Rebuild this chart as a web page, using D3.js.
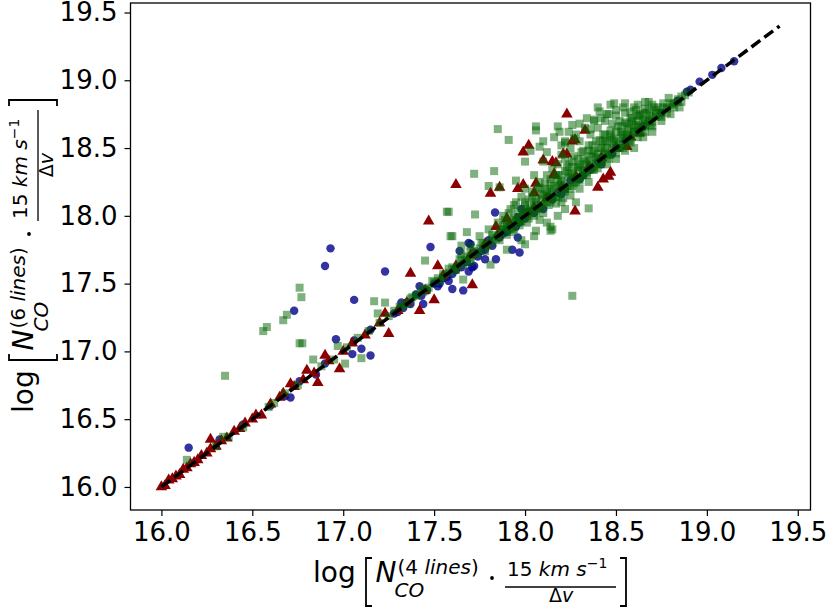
<!DOCTYPE html>
<html>
<head>
<meta charset="utf-8">
<script src="https://cdn.jsdelivr.net/npm/d3@7"></script>
<style>
  body { margin: 0; background: #fff; }
  svg { display: block; font-family: "DejaVu Sans", sans-serif; }
</style>
</head>
<body>
<div id="chart"></div>
<script>
// axis ticks (same on both axes)
const tickValues = [16.0, 16.5, 17.0, 17.5, 18.0, 18.5, 19.0, 19.5];

// one-to-one reference line
const lineX = [16.0, 19.4];
const lineY = [16.0, 19.4];

// blue circles [x, y]
const circlePoints = [
  [16.45,16.46],[16.6,16.6],[16.9,16.91],[17.15,17.16],[17.28,17.28],[17.35,17.36],[17.4,17.42],
  [17.5,17.5],[17.55,17.54],[17.62,17.6],[17.68,17.66],[17.72,17.73],[17.76,17.74],[17.8,17.82],
  [17.88,17.87],[17.92,17.93],[17.97,17.95],[18.02,18.03],[18.08,18.06],[18.13,18.14],[18.18,18.17],
  [18.25,18.26],[18.32,18.3],[18.4,18.4],[18.48,18.46],[18.55,18.55],[18.65,18.66],[18.75,18.76],
  [18.84,18.85],[18.89,18.915],[18.91,18.93],[18.96,18.99],[19.03,19.04],[19.08,19.09],[19.15,19.14],
  [16.15,16.29],[16.32,16.35],[16.71,16.66],[16.68,16.67],[16.76,16.78],[16.85,16.83],[16.73,17.30],
  [16.90,17.63],[16.93,17.76],[16.96,17.09],[17.05,16.98],[17.06,17.08],[17.10,17.02],[17.15,16.97],
  [17.06,17.38],[17.23,17.59],[17.48,17.77],[17.42,17.48],[17.44,17.35],[17.32,17.36],[17.60,17.46],
  [17.66,17.45],[17.64,17.74],[17.69,17.80],[17.835,18.025],[17.93,17.75],[17.97,17.73],[17.84,17.68],
  [17.78,17.68],[17.70,17.79],[17.72,17.63],[17.71,17.62],[17.69,17.59],[17.98,18.05],[17.96,17.99],
  [17.96,17.84],[18.1,18.05],[18.2,18.16],[18.3,18.27],[18.42,18.38],[17.58,17.52],[17.52,17.48],
  [17.3,17.29],[17.33,17.32],[17.37,17.35],[17.43,17.41],[17.46,17.45],[17.53,17.5],[17.57,17.55],
  [17.6,17.57],[17.65,17.62],[17.74,17.7],[17.78,17.75],[17.82,17.78],[17.86,17.84],[17.9,17.88],
  [17.95,17.92],[18.0,17.98],[18.05,18.02],[18.15,18.12],[18.22,18.2],[18.28,18.28],[18.36,18.34]
];

// red triangles [x, y]
const trianglePoints = [
  [16.0,16.0],[16.02,16.01],[16.04,16.05],[16.06,16.06],[16.08,16.08],[16.1,16.09],[16.12,16.13],
  [16.14,16.14],[16.16,16.17],[16.18,16.18],[16.2,16.2],[16.22,16.23],[16.25,16.25],[16.27,16.28],
  [16.3,16.3],[16.33,16.34],[16.36,16.36],[16.4,16.41],[16.43,16.43],[16.46,16.47],[16.5,16.5],
  [16.6,16.61],[16.65,16.66],[16.73,16.74],[16.78,16.79],[16.84,16.84],[16.92,16.93],[17.0,17.0],
  [17.05,17.06],[17.12,17.12],[17.2,17.21],[17.3,17.3],[17.35,17.36],[17.45,17.45],[17.55,17.56],
  [17.62,17.63],[17.7,17.71],[17.78,17.79],[17.85,17.86],[17.92,17.93],[18.0,18.01],[18.05,18.06],
  [18.12,18.13],[18.2,18.21],[18.28,18.29],[18.35,18.36],[18.42,18.43],[18.5,18.5],[18.58,18.58],
  [16.27,16.35],[16.52,16.53],[16.55,16.53],[16.67,16.69],[16.71,16.76],[16.80,16.86],[16.86,16.77],
  [16.90,16.97],[16.98,16.87],[17.23,17.28],[17.25,17.13],[17.37,17.575],[17.42,17.30],[17.50,17.38],
  [17.52,17.63],[17.47,17.96],[17.62,18.23],[17.81,18.165],[17.96,18.20],[17.99,18.23],[18.06,18.24],
  [18.275,18.035],[18.40,18.21],[18.47,18.32],[17.90,17.98],[17.71,17.49],[17.84,17.92],[18.10,18.41],
  [18.15,18.40],[18.17,18.39],[18.21,18.455],[18.23,18.455],[18.16,18.31],[17.99,18.47],[18.23,18.75],
  [18.02,18.52],[18.275,18.56],[18.26,18.55],[18.33,18.63],[18.16,18.30],[17.86,18.21],[18.05,18.17],
  [18.43,18.27],[18.56,18.51],[18.63,18.61],[18.46,18.29]
];

// green squares [x, y]
const squarePoints = [
  [16.35,16.82],[16.56,17.15],[16.58,17.18],[16.67,17.23],[16.69,17.27],[16.76,17.47],[16.77,17.40],
  [16.76,17.06],[16.775,17.06],[16.835,16.94],[17.17,17.37],[17.23,17.36],[17.19,17.28],[17.10,16.95],
  [16.97,17.04],[17.01,16.91],[17.45,17.67],[17.59,17.85],[17.68,17.88],[17.65,17.78],[17.66,17.53],
  [17.72,18.31],[17.83,18.33],[17.80,18.22],[17.86,18.21],[17.95,18.26],[17.57,18.03],[17.58,18.03],
  [17.725,18.01],[17.60,17.85],[18.26,17.41],[18.35,18.055],[18.0,17.79],[17.81,17.64],[18.14,17.89],
  [18.08,17.97],[18.06,17.89],[17.85,18.64],[17.91,18.56],[18.06,18.66],[18.06,18.63],[18.18,18.66],
  [18.19,18.62],[18.08,18.51],[18.49,18.83],[18.47,18.82],[18.68,18.84],[18.79,18.87],[18.76,18.83],
  [18.61,18.78],[18.45,18.75],[18.38,18.71],[18.22,18.54],[18.14,17.92],[18.26,18.67],[18.22,18.55],
  [16.14,16.2],[16.34,16.37],[16.37,16.37],[16.3,16.3],[16.45,16.44],[16.59,16.59],[16.62,16.62],
  [16.68,16.69],[16.75,16.75],[16.88,16.89],[16.95,16.94],[17.02,17.03],[17.08,17.1],[17.14,17.15],
  [17.2,17.21],[17.25,17.26],[17.28,17.3],[17.32,17.33],[17.36,17.36],[17.38,17.4],[17.41,17.42],
  [17.44,17.44],[17.47,17.47],[17.5,17.51],[17.53,17.52],[17.55,17.57],[17.58,17.58],[17.6,17.62],
  [17.63,17.63],[17.65,17.67],[17.68,17.7],[17.7,17.69],[17.72,17.74],[17.75,17.76],[17.77,17.79],
  [17.79,17.8],[17.82,17.84],[17.84,17.83],[17.86,17.88],[17.88,17.9],[17.9,17.93],[17.92,17.91],
  [17.95,17.97],[17.97,17.99],[17.99,18.02],[18.01,18.0],[18.03,18.06],[18.05,18.08],[18.07,18.05],
  [18.09,18.12],[18.1,18.15],[18.12,18.1],[18.14,18.18],[18.15,18.2],[18.17,18.14],[18.19,18.23],
  [18.2,18.26],[18.22,18.2],[18.24,18.28],[18.25,18.31],[18.27,18.24],[18.29,18.33],[18.3,18.36],
  [18.32,18.3],[18.34,18.38],[18.35,18.41],[18.37,18.34],[18.39,18.43],[18.4,18.46],[18.42,18.4],
  [18.44,18.48],[18.45,18.5],[18.47,18.45],[18.49,18.52],[18.5,18.55],[18.52,18.5],[18.54,18.57],
  [18.56,18.6],[18.58,18.56],[18.6,18.62],[18.62,18.65],[18.64,18.63],[18.66,18.68],[18.68,18.7],
  [18.7,18.69],[18.72,18.73],[18.75,18.76],[18.78,18.8],[18.82,18.83],[18.86,18.88],[18.9,18.91],
  [18.05,18.3],[18.1,18.4],[18.15,18.35],[18.2,18.45],[18.25,18.5],[18.28,18.6],[18.3,18.55],
  [18.33,18.65],[18.36,18.6],[18.38,18.7],[18.4,18.65],[18.42,18.72],[18.44,18.6],[18.46,18.75],
  [18.48,18.68],[18.5,18.78],[18.52,18.7],[18.55,18.76],[18.58,18.72],[18.6,18.8],[18.63,18.75],
  [18.66,18.79],[18.7,18.82],[18.73,18.8],[18.2,18.1],[18.25,18.15],[18.3,18.2],[18.35,18.25],
  [18.0,18.2],[17.95,18.1],[18.08,18.25],[18.12,18.3],[18.18,18.38],[18.22,18.42],[18.26,18.4],
  [18.32,18.48],[18.37,18.52],[18.43,18.55],[18.47,18.58],[18.53,18.62],[18.57,18.66],[18.62,18.7],
  [18.12,17.95],[18.18,18.0],[18.22,18.05],[18.28,18.1],[18.15,17.9],[18.05,17.85],[17.98,17.82],
  [17.9,17.75],[17.88,18.0],[17.92,18.05],[17.85,17.95],[17.8,17.9],[17.75,17.85],[17.7,17.78],
  [17.65,17.72],[18.4,18.35],[18.45,18.38],[18.5,18.42],[18.55,18.48],[18.6,18.5],[18.65,18.58],
  [18.7,18.62],[18.75,18.7],[18.8,18.75],[18.85,18.8],
  [17.88,17.9],[17.89,17.97],[17.9,17.86],[17.91,18.02],[17.92,17.96],[17.93,17.88],[17.94,18.08],
  [17.95,17.95],[17.96,18.04],[17.97,17.93],[17.98,18.14],[17.99,18.02],[18.0,18.08],[18.01,17.95],
  [18.02,18.12],[18.03,18.04],[18.04,18.18],[18.05,18.0],[18.06,18.1],[18.07,18.21],[18.08,18.06],
  [18.09,18.16],[18.1,18.02],[18.11,18.24],[18.12,18.14],[18.13,18.08],[18.14,18.27],[18.15,18.16],
  [18.16,18.22],[18.17,18.09],[18.18,18.3],[18.19,18.18],[18.2,18.24],[18.21,18.13],[18.22,18.33],
  [18.23,18.22],[18.24,18.38],[18.25,18.2],[18.26,18.3],[18.27,18.44],[18.28,18.25],[18.29,18.36],
  [18.3,18.28],[18.31,18.47],[18.32,18.34],[18.33,18.4],[18.34,18.3],[18.35,18.52],[18.36,18.38],
  [18.37,18.46],[18.38,18.34],[18.39,18.55],[18.4,18.42],[18.41,18.5],[18.42,18.38],[18.43,18.6],
  [18.44,18.46],[18.45,18.54],[18.46,18.42],[18.47,18.63],[18.48,18.5],[18.49,18.57],[18.5,18.46],
  [18.51,18.66],[18.52,18.54],[18.53,18.6],[18.54,18.5],[18.55,18.69],[18.56,18.58],[18.57,18.64],
  [18.58,18.54],[18.59,18.72],[18.6,18.62],[18.61,18.67],[18.62,18.58],[18.63,18.74],[18.64,18.66],
  [18.65,18.7],[18.66,18.62],[18.67,18.76],[18.68,18.7],[18.69,18.74],[18.7,18.66],[18.72,18.78],
  [18.74,18.74],[18.76,18.8],[18.78,18.76],[18.8,18.83],[18.82,18.8],[18.84,18.86],[18.86,18.84],
  [18.88,18.89],
  [17.62,17.6],[17.66,17.64],[17.7,17.66],[17.74,17.72],[17.78,17.74],[17.82,17.8],[17.86,17.82],
  [17.9,17.92],[17.94,17.9],[17.98,17.96],[18.02,17.98],[18.06,18.03],[18.1,18.08],[18.14,18.1],
  [18.18,18.14],[18.22,18.18],[18.26,18.22],[18.3,18.26],[18.34,18.32],[18.38,18.36],[18.42,18.42],
  [18.46,18.45],[18.5,18.5],[18.54,18.53],[18.58,18.6],[18.62,18.63],[18.66,18.66],[18.7,18.72],
  [18.0,18.4],[18.03,18.48],[18.1,18.55],[18.12,18.47],[18.16,18.58],[18.2,18.52],[18.24,18.62],
  [18.27,18.57],[18.3,18.68],[18.34,18.72],[18.36,18.64],[18.41,18.77],[18.44,18.7],[18.5,18.74],
  [18.54,18.8],[18.58,18.77],[18.62,18.82],[18.66,18.84],[18.55,18.83],[18.4,18.8],
  [17.31,17.33],[17.34,17.35],[17.37,17.39],[17.4,17.41],[17.43,17.46],[17.46,17.46],[17.49,17.52],
  [17.52,17.54],[17.55,17.55],[17.58,17.61],[17.61,17.6],[17.64,17.68],[17.67,17.67],[17.7,17.73],
  [17.73,17.72],[17.76,17.8],[17.79,17.78],[17.82,17.86],[17.85,17.85],[17.88,17.93],[17.91,17.9],
  [17.94,17.99],[17.97,17.96],[18.0,18.05],[18.03,18.02],[18.06,18.12],[18.09,18.08],[18.12,18.18],
  [18.15,18.13],[18.18,18.25],[18.21,18.19],[18.24,18.32],[18.27,18.27],[18.3,18.38],[18.33,18.33],
  [18.36,18.44],[18.39,18.38],[18.42,18.5],[18.45,18.44],[18.48,18.56],[18.51,18.5],[18.54,18.6],
  [18.57,18.55],[18.6,18.66],[18.63,18.61],[18.66,18.71],[18.69,18.67],[18.72,18.76],[18.75,18.73],
  [18.78,18.79],[18.81,18.82],[18.84,18.84],
  [18.0,18.1],[18.04,18.14],[18.08,18.2],[18.11,18.2],[18.14,18.24],[18.17,18.3],[18.2,18.3],
  [18.23,18.36],[18.26,18.36],[18.29,18.42],[18.32,18.42],[18.35,18.48],[18.38,18.48],[18.41,18.56],
  [18.44,18.55],[18.47,18.6],[18.5,18.62],[18.53,18.66],[18.56,18.68],[18.59,18.7],[18.62,18.74],
  [18.65,18.76],[18.68,18.78],[18.71,18.8]
];

const width = 831, height = 607;
const margin = { top: 3, right: 20.5, bottom: 97, left: 130.5 };
const innerW = width - margin.left - margin.right;
const innerH = height - margin.top - margin.bottom;

const svg = d3.select('#chart').append('svg')
  .attr('width', width)
  .attr('height', height);

const x = d3.scaleLinear().domain([15.83, 19.57]).range([0, innerW]);
const y = d3.scaleLinear().domain([15.83, 19.57]).range([innerH, 0]);

const g = svg.append('g')
  .attr('transform', `translate(${margin.left},${margin.top})`);

// markers: circles first, then triangles, squares on top
g.selectAll('path.circ').data(circlePoints).join('path')
  .attr('class', 'circ')
  .attr('d', d3.symbol(d3.symbolCircle, 56))
  .attr('transform', d => `translate(${x(d[0])},${y(d[1])})`)
  .attr('fill', '#00008b')
  .attr('fill-opacity', 0.8);

g.selectAll('path.tri').data(trianglePoints).join('path')
  .attr('class', 'tri')
  .attr('d', d3.symbol(d3.symbolTriangle, 58))
  .attr('transform', d => `translate(${x(d[0])},${y(d[1])})`)
  .attr('fill', '#8b0000');

g.selectAll('path.sq').data(squarePoints).join('path')
  .attr('class', 'sq')
  .attr('d', d3.symbol(d3.symbolSquare, 64))
  .attr('transform', d => `translate(${x(d[0])},${y(d[1])})`)
  .attr('fill', '#006400')
  .attr('fill-opacity', 0.5);

// dashed 1:1 line
const line = d3.line().x(d => x(d[0])).y(d => y(d[1]));
g.append('path')
  .datum(lineX.map((v, i) => [v, lineY[i]]))
  .attr('d', line)
  .attr('fill', 'none')
  .attr('stroke', '#000')
  .attr('stroke-width', 3.5)
  .attr('stroke-dasharray', '11,5');

// axes
const fmt = d3.format('.1f');
const xAxis = g.append('g')
  .attr('transform', `translate(0,${innerH})`)
  .call(d3.axisBottom(x).tickValues(tickValues).tickFormat(fmt).tickSize(6).tickSizeOuter(0).tickPadding(7));
const yAxis = g.append('g')
  .call(d3.axisLeft(y).tickValues(tickValues).tickFormat(fmt).tickSize(6).tickSizeOuter(0).tickPadding(7));

[xAxis, yAxis].forEach(a => {
  a.selectAll('text').attr('font-size', 26).attr('font-family', '"DejaVu Sans", sans-serif').attr('fill', '#000');
  a.selectAll('line').attr('stroke', '#000').attr('stroke-width', 1.2);
  a.select('.domain').remove();
});

// frame
g.append('rect')
  .attr('width', innerW).attr('height', innerH)
  .attr('fill', 'none').attr('stroke', '#000').attr('stroke-width', 1.3);

// axis label: log [ N_CO^(k lines) . 15 km s^-1 / Δv ]
function drawLabel(sel, k) {
  const big = 28, small = 20;
  sel.append('text').attr('x', -156.5).attr('y', 0).attr('font-size', big).text('log');
  sel.append('path').attr('d', 'M-97.5,-24H-103.5V24H-97.5')
    .attr('fill', 'none').attr('stroke', '#000').attr('stroke-width', 1.8);
  sel.append('text').attr('x', -94).attr('y', 0).attr('font-size', big)
    .attr('font-style', 'italic').text('N');
  const sup = sel.append('text').attr('x', -72).attr('y', -8).attr('font-size', small);
  sup.append('tspan').text(`(${k} `);
  sup.append('tspan').attr('font-style', 'italic').text('lines');
  sup.append('tspan').text(')');
  sel.append('text').attr('x', -75).attr('y', 15).attr('font-size', small)
    .attr('font-style', 'italic').text('CO');
  sel.append('circle').attr('cx', 22.5).attr('cy', -4).attr('r', 1.9).attr('fill', '#000');
  const num = sel.append('text').attr('x', 37.5).attr('y', -6).attr('font-size', small);
  num.append('tspan').text('15 ');
  num.append('tspan').attr('font-style', 'italic').text('km');
  num.append('tspan').text(' ');
  num.append('tspan').attr('font-style', 'italic').text('s');
  num.append('tspan').attr('font-size', 14).attr('dy', -8).text('\u22121');
  sel.append('line').attr('x1', 35.5).attr('x2', 146.5).attr('y1', 5).attr('y2', 5)
    .attr('stroke', '#000').attr('stroke-width', 1.3);
  const den = sel.append('text').attr('x', 91.5).attr('y', 20).attr('font-size', 19)
    .attr('text-anchor', 'middle');
  den.append('tspan').text('\u0394');
  den.append('tspan').attr('font-style', 'italic').text('v');
  sel.append('path').attr('d', 'M150.5,-24H156.5V24H150.5')
    .attr('fill', 'none').attr('stroke', '#000').attr('stroke-width', 1.8);
}

const cx = margin.left + innerW / 2;
const cy = margin.top + innerH / 2;
drawLabel(svg.append('g').attr('transform', `translate(${cx - 1},582)`), 4);
drawLabel(svg.append('g').attr('transform', `translate(33,${cy}) rotate(-90)`), 6);
</script>
</body>
</html>
